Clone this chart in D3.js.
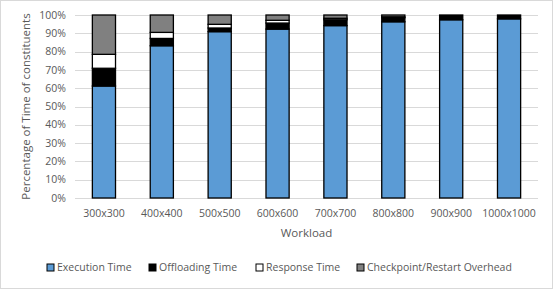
<!doctype html>
<html>
<head>
<meta charset="utf-8">
<style>
  body { margin: 0; background: #fff; }
  svg text { font-family: "Open Sans", "Noto Sans", sans-serif; fill: #595959; }
</style>
</head>
<body>
<div id="chart"></div>
<script src="https://cdn.jsdelivr.net/npm/d3@7"></script>
<script>
// data (percent of total time)
var workloads = ["300x300", "400x400", "500x500", "600x600", "700x700", "800x800", "900x900", "1000x1000"];
var execution = [61.2, 83.2, 90.9, 92.3, 94.2, 96.3, 97.4, 97.9];
var offloading = [9.7, 4.0, 2.0, 3.3, 3.2, 2.2, 2.6, 2.1];
var response = [7.6, 3.3, 2.0, 1.5, 0.8, 0.5, 0, 0];
var checkpoint = [21.5, 9.5, 5.1, 2.9, 1.8, 1.0, 0, 0];
var seriesNames = ["Execution Time", "Offloading Time", "Response Time", "Checkpoint/Restart Overhead"];
var seriesColors = ["#5b9bd5", "#000000", "#ffffff", "#808080"];
var yTicks = [0, 10, 20, 30, 40, 50, 60, 70, 80, 90, 100];

var width = 553, height = 289;
var margin = {left: 75, right: 15, top: 15, bottom: 91};

var svg = d3.select("#chart").append("svg")
    .attr("width", width)
    .attr("height", height);

// outer chart border
svg.append("rect")
    .attr("x", 0.5).attr("y", 0.5)
    .attr("width", width - 1).attr("height", height - 1)
    .attr("fill", "#fff").attr("stroke", "#d9d9d9");

var x = d3.scaleBand()
    .domain(workloads)
    .range([margin.left, width - margin.right])
    .paddingInner(0.6).paddingOuter(0.3);

var y = d3.scaleLinear()
    .domain([0, 100])
    .range([height - margin.bottom, margin.top]);

// gridlines
svg.append("g")
  .selectAll("line")
  .data(yTicks)
  .enter().append("line")
    .attr("x1", margin.left).attr("x2", width - margin.right)
    .attr("y1", d => Math.round(y(d)) + 0.5).attr("y2", d => Math.round(y(d)) + 0.5)
    .attr("stroke", "#d9d9d9").attr("stroke-width", 1);

// y tick labels
svg.append("g")
  .selectAll("text")
  .data(yTicks)
  .enter().append("text")
    .attr("x", 66)
    .attr("y", d => y(d))
    .attr("dy", "0.35em")
    .attr("text-anchor", "end")
    .style("font-size", "10.5px")
    .text(d => d + "%");

// stack
var table = workloads.map((w, i) => ({
  workload: w, s0: execution[i], s1: offloading[i], s2: response[i], s3: checkpoint[i]
}));
var stack = d3.stack().keys(["s0", "s1", "s2", "s3"]);
var layers = stack(table);

svg.append("g")
  .selectAll("g")
  .data(layers)
  .enter().append("g")
    .attr("fill", (d, i) => seriesColors[i])
  .selectAll("rect")
  .data(d => d.filter(p => p[1] - p[0] > 0))
  .enter().append("rect")
    .attr("x", d => x(d.data.workload))
    .attr("y", d => y(d[1]))
    .attr("width", x.bandwidth())
    .attr("height", d => y(d[0]) - y(d[1]))
    .attr("stroke", "#000")
    .attr("stroke-width", 1.3);

// x labels
svg.append("g")
  .selectAll("text")
  .data(workloads)
  .enter().append("text")
    .attr("x", d => x(d) + x.bandwidth() / 2)
    .attr("y", 217)
    .attr("text-anchor", "middle")
    .style("font-size", "10.5px")
    .text(d => d);

// axis titles
svg.append("text")
    .attr("x", (margin.left + width - margin.right) / 2)
    .attr("y", 237)
    .attr("text-anchor", "middle")
    .style("font-size", "11.5px")
    .text("Workload");

svg.append("text")
    .attr("transform", "translate(30," + ((margin.top + height - margin.bottom) / 2) + ") rotate(-90)")
    .attr("text-anchor", "middle")
    .style("font-size", "11.5px")
    .text("Percentage of Time of constituents");

// legend
var legendX = [47, 149, 256, 357];
var legend = svg.append("g")
  .selectAll("g")
  .data(seriesNames)
  .enter().append("g")
    .attr("transform", (d, i) => "translate(" + legendX[i] + ",264)");

legend.append("rect")
    .attr("width", 7).attr("height", 7)
    .attr("fill", (d, i) => seriesColors[i])
    .attr("stroke", "#000").attr("stroke-width", 1);

legend.append("text")
    .attr("x", 10).attr("y", 3.5)
    .attr("dy", "0.35em")
    .style("font-size", "10.5px")
    .text(d => d);
</script>
</body>
</html>
